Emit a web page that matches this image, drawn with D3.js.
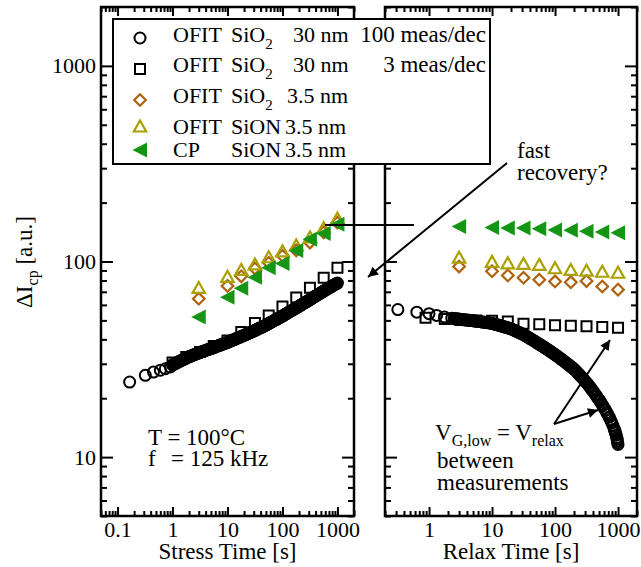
<!DOCTYPE html>
<html>
<head>
<meta charset="utf-8">
<script src="https://cdn.jsdelivr.net/npm/d3@7"></script>
<style>
  body { margin: 0; background: #fff; }
  svg { display: block; }
  text { font-family: "Liberation Serif", "Times New Roman", serif; fill: #000; }
</style>
</head>
<body>
<svg id="chart" width="641" height="567"></svg>
<script>
// ---------- data ----------
// Fast OFIT sampling times (100 meas/dec device; band drawn from 1 s to 1000 s)
const denseGridT = [
  1, 1.047, 1.096, 1.148, 1.202, 1.259, 1.318, 1.380, 1.445, 1.514, 1.585, 1.660, 1.738, 1.820, 1.905,
  1.995, 2.089, 2.188, 2.291, 2.399, 2.512, 2.630, 2.754, 2.884, 3.020, 3.162, 3.311, 3.467, 3.631, 3.802,
  3.981, 4.169, 4.365, 4.571, 4.786, 5.012, 5.248, 5.495, 5.754, 6.026, 6.310, 6.607, 6.918, 7.244, 7.586,
  7.943, 8.318, 8.710, 9.120, 9.550,
  10, 10.47, 10.96, 11.48, 12.02, 12.59, 13.18, 13.80, 14.45, 15.14, 15.85, 16.60, 17.38, 18.20, 19.05,
  19.95, 20.89, 21.88, 22.91, 23.99, 25.12, 26.30, 27.54, 28.84, 30.20, 31.62, 33.11, 34.67, 36.31, 38.02,
  39.81, 41.69, 43.65, 45.71, 47.86, 50.12, 52.48, 54.95, 57.54, 60.26, 63.10, 66.07, 69.18, 72.44, 75.86,
  79.43, 83.18, 87.10, 91.20, 95.50,
  100, 104.7, 109.6, 114.8, 120.2, 125.9, 131.8, 138.0, 144.5, 151.4, 158.5, 166.0, 173.8, 182.0, 190.5,
  199.5, 208.9, 218.8, 229.1, 239.9, 251.2, 263.0, 275.4, 288.4, 302.0, 316.2, 331.1, 346.7, 363.1, 380.2,
  398.1, 416.9, 436.5, 457.1, 478.6, 501.2, 524.8, 549.5, 575.4, 602.6, 631.0, 660.7, 691.8, 724.4, 758.6,
  794.3, 831.8, 871.0, 912.0, 955.0, 1000];

// Stress phase: OFIT SiO2 30 nm, 100 meas/dec (circles)
const stressEarlyT = [0.166, 0.32, 0.45, 0.6, 0.74, 0.91];
const stressEarlyV = [24.2, 26.2, 27.2, 27.8, 28.3, 28.9];
const stressDenseV = [
  29.6, 29.8, 30.0, 30.2, 30.4, 30.6, 30.8, 31.0, 31.2, 31.4, 31.6, 31.8, 32.0, 32.2, 32.4,
  32.6, 32.8, 32.9, 33.1, 33.3, 33.5, 33.6, 33.8, 34.0, 34.1, 34.3, 34.5, 34.6, 34.8, 34.9,
  35.1, 35.3, 35.4, 35.6, 35.7, 35.9, 36.1, 36.3, 36.4, 36.6, 36.8, 37.0, 37.2, 37.3, 37.5,
  37.7, 37.9, 38.1, 38.2, 38.4,
  38.6, 38.8, 39.0, 39.3, 39.5, 39.7, 39.9, 40.1, 40.4, 40.6, 40.8, 41.0, 41.2, 41.5, 41.7,
  41.9, 42.2, 42.4, 42.7, 42.9, 43.2, 43.4, 43.7, 43.9, 44.2, 44.4, 44.7, 45.0, 45.3, 45.6,
  45.9, 46.1, 46.4, 46.7, 47.0, 47.3, 47.7, 48.0, 48.4, 48.7, 49.1, 49.4, 49.8, 50.1, 50.5,
  50.8, 51.2, 51.5, 51.9, 52.2,
  52.6, 53.0, 53.5, 53.9, 54.3, 54.7, 55.2, 55.6, 56.0, 56.4, 56.9, 57.3, 57.7, 58.2, 58.6,
  59.0, 59.5, 60.0, 60.5, 61.0, 61.5, 61.9, 62.4, 62.9, 63.4, 63.9, 64.4, 65.0, 65.5, 66.0,
  66.6, 67.1, 67.6, 68.1, 68.7, 69.2, 69.8, 70.3, 70.9, 71.4, 72.0, 72.6, 73.1, 73.7, 74.2,
  74.8, 75.4, 75.9, 76.5, 77.0, 77.6];

// Stress phase: OFIT SiO2 30 nm, 3 meas/dec (squares)
const stressSlowT = [1, 1.78, 3.16, 5.62, 10, 17.8, 31.6, 56.2, 100, 178, 316, 562, 1000];
const stressSlowV = [30.5, 32.5, 34.5, 37, 39.5, 43.6, 48.5, 53, 58.9, 65.4, 73.5, 82.6, 93];

// Stress phase: 3.5 nm devices
const stressThinT = [3, 10, 17.8, 31.6, 56.2, 100, 178, 316, 562, 1000];
const stressSiO2V = [64.5, 75, 84, 92, 98.5, 107, 114, 125, 141, 158];
const stressSiONV = [72.8, 83, 90, 96, 104.5, 112, 120, 132, 147, 165];
const stressCpV   = [52.1, 65.6, 72.9, 83, 93, 97.6, 113.7, 130, 139, 155];

// Relaxation phase: OFIT SiO2 30 nm, 100 meas/dec (circles)
const relaxEarlyT = [0.32, 0.64, 1.0, 1.32, 1.75, 2.3];
const relaxEarlyV = [56.8, 55.1, 54.1, 53.0, 52.1, 51.3];
const relaxDenseStart = 2.5; // dense sampling from here on (grid above)
const relaxDenseV = [
  51.0, 50.9, 50.9, 50.8, 50.7, 50.6, 50.5, 50.4, 50.4, 50.3, 50.2, 50.1, 50.1, 50.0, 49.9,
  49.8, 49.7, 49.6, 49.5, 49.4, 49.3, 49.2, 49.1, 49.0, 48.9, 48.8, 48.7, 48.6, 48.5, 48.4,
  48.3, 48.1, 47.9, 47.7, 47.5, 47.3, 47.1, 46.9, 46.7, 46.5, 46.3, 46.1, 45.9, 45.7, 45.5,
  45.3, 45.0, 44.7, 44.4, 44.1, 43.8, 43.5, 43.2, 42.9, 42.6, 42.3, 41.9, 41.6, 41.2, 40.9,
  40.5, 40.1, 39.8, 39.4, 39.1, 38.7, 38.3, 38.0, 37.6, 37.3, 36.9, 36.6, 36.2, 35.9, 35.5,
  35.2, 34.8, 34.5, 34.1, 33.8,
  33.4, 33.1, 32.7, 32.4, 32.0, 31.7, 31.3, 31.0, 30.6, 30.3, 29.9, 29.6, 29.2, 28.9, 28.5,
  28.2, 27.8, 27.4, 26.9, 26.5, 26.1, 25.7, 25.3, 24.8, 24.4, 24.0, 23.6, 23.1, 22.7, 22.2,
  21.8, 21.4, 20.9, 20.5, 20.0, 19.6, 19.2, 18.7, 18.3, 17.8, 17.4, 16.9, 16.5, 16.0, 15.5,
  15.0, 14.5, 13.9, 13.3, 12.6, 11.6];
// extra points on the steep tail
const relaxTailT = [892, 933, 966, 977, 989];
const relaxTailV = [13.6, 12.95, 12.35, 12.1, 11.85];

// Relaxation phase: OFIT SiO2 30 nm, 3 meas/dec (squares)
const relaxSlowT = [0.88, 1.78, 3.16, 5.62, 10, 17.8, 31.6, 56.2, 100, 178, 316, 562, 1000];
const relaxSlowV = [51.5, 50.8, 50.3, 50.0, 49.8, 49.4, 48.1, 47.8, 47.2, 46.9, 46.6, 46.3, 45.9];

// Relaxation phase: 3.5 nm devices
const relaxThinT = [3, 10, 17.8, 31.6, 56.2, 100, 178, 316, 562, 1000];
const relaxSiO2V = [94.2, 89.2, 84.9, 82.6, 80.7, 79.1, 78.4, 79.4, 74.5, 71.8];
const relaxSiONV = [104, 99, 97.3, 96.6, 95.5, 91.8, 90, 89.2, 88.1, 87.1];
const relaxCpV   = [151, 149, 148.5, 148.5, 147, 145, 144.3, 142.8, 141.7, 140.4];

// Axis ranges and tick labels
const yDomain = [5, 2000];
const stressDomain = [0.05, 2000];
const relaxDomain = [0.2, 2000];
const yLabels = [10, 100, 1000];
const stressLabels = [0.1, 1, 10, 100, 1000];
const relaxLabels = [1, 10, 100, 1000];

// ---------- layout ----------
const svg = d3.select("#chart");
const plotTop = 7, plotBottom = 516;
const leftPanel = { x0: 101, x1: 354 };
const rightPanel = { x0: 385, x1: 637 };

const y = d3.scaleLog().domain(yDomain).range([plotBottom, plotTop]);
const xStress = d3.scaleLog().domain(stressDomain).range([leftPanel.x0, leftPanel.x1]);
const xRelax = d3.scaleLog().domain(relaxDomain).range([rightPanel.x0, rightPanel.x1]);

const COL = {
  black: "#000",
  brown: "#b0620e",
  olive: "#aaa000",
  green: "#149614"
};

const shapes = {
  circle: "M5.5,0A5.5,5.5 0 1,1 -5.5,0A5.5,5.5 0 1,1 5.5,0Z",
  square: "M-5,-5H5V5H-5Z",
  diamond: "M0,-5.8L5.8,0L0,5.8L-5.8,0Z",
  triUp: "M0,-6.5L6.2,4.5L-6.2,4.5Z",
  triLeft: "M-7.5,0L7,-7.5L7,7.5Z"
};
const styles = {
  circle: { stroke: COL.black, fill: "none", sw: 2 },
  square: { stroke: COL.black, fill: "none", sw: 2 },
  diamond: { stroke: COL.brown, fill: "none", sw: 2.2 },
  triUp: { stroke: COL.olive, fill: "none", sw: 2.2 },
  triLeft: { stroke: "none", fill: COL.green, sw: 0 }
};

function isMajor(v) {
  const l = Math.log10(v);
  return Math.abs(l - Math.round(l)) < 1e-6;
}
const fmt = d3.format("~g");

function styleAxis(g) {
  g.select(".domain").remove();
  g.selectAll(".tick line").attr("stroke", "#000").attr("stroke-width", 2);
  g.selectAll(".tick text").attr("font-size", 22).attr("fill", "#000");
}

function drawPanel(x, panel, xLabels, showY) {
  const g = svg.append("g");
  const xTicks = x.ticks().filter(d => d >= x.domain()[0] && d <= x.domain()[1]);
  const yTicks = y.ticks().filter(d => d >= yDomain[0] && d <= yDomain[1]);
  const isLab = (list) => (d) => list.some(v => Math.abs(v - d) / v < 1e-6);

  // bottom axis (ticks point inward)
  const gb = g.append("g").attr("transform", `translate(0,${plotBottom})`)
    .call(d3.axisBottom(x).tickValues(xTicks).tickSize(-9).tickPadding(5)
      .tickFormat(d => isLab(xLabels)(d) ? fmt(d) : ""));
  styleAxis(gb);
  gb.selectAll(".tick line").attr("y2", d => isMajor(d) ? -9 : -5);

  // top axis
  const gt = g.append("g").attr("transform", `translate(0,${plotTop})`)
    .call(d3.axisTop(x).tickValues(xTicks).tickSize(-9).tickFormat(""));
  styleAxis(gt);
  gt.selectAll(".tick line").attr("y2", d => isMajor(d) ? 9 : 5);

  // left axis
  const gl = g.append("g").attr("transform", `translate(${panel.x0},0)`)
    .call(d3.axisLeft(y).tickValues(yTicks).tickSize(-12).tickPadding(5)
      .tickFormat(d => showY && isLab(yLabels)(d) ? fmt(d) : ""));
  styleAxis(gl);
  gl.selectAll(".tick line").attr("x2", d => isMajor(d) ? 12 : 6);

  // right axis
  const gr = g.append("g").attr("transform", `translate(${panel.x1},0)`)
    .call(d3.axisRight(y).tickValues(yTicks).tickSize(-12).tickFormat(""));
  styleAxis(gr);
  gr.selectAll(".tick line").attr("x2", d => isMajor(d) ? -12 : -6);

  g.append("rect")
    .attr("x", panel.x0).attr("y", plotTop)
    .attr("width", panel.x1 - panel.x0).attr("height", plotBottom - plotTop)
    .attr("fill", "none").attr("stroke", "#000").attr("stroke-width", 2.5);
  return g;
}

function drawSeries(g, x, ts, vs, shape) {
  const st = styles[shape];
  g.append("g").selectAll("path")
    .data(ts.map((t, i) => [t, vs[i]]))
    .join("path")
    .attr("d", shapes[shape])
    .attr("transform", d => `translate(${x(d[0])},${y(d[1])})`)
    .attr("fill", st.fill)
    .attr("stroke", st.stroke)
    .attr("stroke-width", st.sw);
}

// ---------- panels ----------
const gL = drawPanel(xStress, leftPanel, stressLabels, true);
const gR = drawPanel(xRelax, rightPanel, relaxLabels, false);

const relaxDenseT = denseGridT.filter(t => t >= relaxDenseStart);

drawSeries(gL, xStress, stressSlowT, stressSlowV, "square");
drawSeries(gL, xStress, stressEarlyT, stressEarlyV, "circle");
drawSeries(gL, xStress, denseGridT, stressDenseV, "circle");
drawSeries(gL, xStress, stressThinT, stressSiO2V, "diamond");
drawSeries(gL, xStress, stressThinT, stressSiONV, "triUp");
drawSeries(gL, xStress, stressThinT, stressCpV, "triLeft");

drawSeries(gR, xRelax, relaxSlowT, relaxSlowV, "square");
drawSeries(gR, xRelax, relaxEarlyT, relaxEarlyV, "circle");
drawSeries(gR, xRelax, relaxDenseT, relaxDenseV, "circle");
drawSeries(gR, xRelax, relaxTailT, relaxTailV, "circle");
drawSeries(gR, xRelax, relaxThinT, relaxSiO2V, "diamond");
drawSeries(gR, xRelax, relaxThinT, relaxSiONV, "triUp");
drawSeries(gR, xRelax, relaxThinT, relaxCpV, "triLeft");

// ---------- axis titles ----------
svg.append("text")
  .attr("x", (leftPanel.x0 + leftPanel.x1) / 2).attr("y", 559)
  .attr("text-anchor", "middle").attr("font-size", 23)
  .text("Stress Time [s]");
svg.append("text")
  .attr("x", (rightPanel.x0 + rightPanel.x1) / 2).attr("y", 559)
  .attr("text-anchor", "middle").attr("font-size", 23)
  .text("Relax Time [s]");

const yTitle = svg.append("text")
  .attr("transform", "translate(32,262) rotate(-90)")
  .attr("text-anchor", "middle").attr("font-size", 23);
yTitle.append("tspan").text("\u0394I");
yTitle.append("tspan").attr("dy", 6).attr("font-size", 16).text("cp");
yTitle.append("tspan").attr("dy", -6).text(" [a.u.]");

// ---------- annotations ----------
const defs = svg.append("defs");
defs.append("marker")
  .attr("id", "arrowHead").attr("viewBox", "0 0 10 10")
  .attr("refX", 10).attr("refY", 5)
  .attr("markerWidth", 7.5).attr("markerHeight", 5)
  .attr("orient", "auto")
  .append("path").attr("d", "M0,0L10,5L0,10Z").attr("fill", "#000");

const notes = svg.append("g");
notes.append("text").attr("x", 148).attr("y", 445).attr("font-size", 23).text("T = 100\u00B0C");
const t2 = notes.append("text").attr("x", 148).attr("y", 466).attr("font-size", 23);
t2.append("tspan").text("f");
t2.append("tspan").attr("x", 171).text("= 125 kHz");

notes.append("text").attr("x", 517).attr("y", 158).attr("font-size", 23).text("fast");
notes.append("text").attr("x", 517).attr("y", 180).attr("font-size", 23).text("recovery?");

const vt = notes.append("text").attr("x", 435).attr("y", 440).attr("font-size", 23);
vt.append("tspan").text("V");
vt.append("tspan").attr("dy", 6).attr("font-size", 16).text("G,low");
vt.append("tspan").attr("dy", -6).text(" = V");
vt.append("tspan").attr("dy", 6).attr("font-size", 16).text("relax");
notes.append("text").attr("x", 437).attr("y", 468).attr("font-size", 23).text("between");
notes.append("text").attr("x", 437).attr("y", 490).attr("font-size", 23).text("measurements");

// connector line across the panel gap
notes.append("line")
  .attr("x1", 325).attr("y1", 225).attr("x2", 414).attr("y2", 225)
  .attr("stroke", "#000").attr("stroke-width", 2);
// arrows
const arrows = [
  [507, 163, 368, 277],
  [554, 424, 610, 340],
  [554, 424, 598, 410]
];
notes.selectAll("line.arrow").data(arrows).join("line")
  .attr("class", "arrow")
  .attr("x1", d => d[0]).attr("y1", d => d[1])
  .attr("x2", d => d[2]).attr("y2", d => d[3])
  .attr("stroke", "#000").attr("stroke-width", 2)
  .attr("marker-end", "url(#arrowHead)");

// ---------- legend ----------
const legendRows = [
  { shape: "circle", y: 38, base: 42, main: "OFIT", mat: "SiO", sub: "2", thick: "30 nm", thickX: 293, rate: "100 meas/dec" },
  { shape: "square", y: 69, base: 72, main: "OFIT", mat: "SiO", sub: "2", thick: "30 nm", thickX: 293, rate: "3 meas/dec" },
  { shape: "diamond", y: 100, base: 103, main: "OFIT", mat: "SiO", sub: "2", thick: "3.5 nm", thickX: 287, rate: "" },
  { shape: "triUp", y: 127, base: 134, main: "OFIT", mat: "SiON", sub: "", thick: "3.5 nm", thickX: 285, rate: "" },
  { shape: "triLeft", y: 150, base: 157, main: "CP", mat: "SiON", sub: "", thick: "3.5 nm", thickX: 285, rate: "" }
];
const lg = svg.append("g");
lg.append("rect").attr("x", 113).attr("y", 19).attr("width", 377).attr("height", 145)
  .attr("fill", "#fff").attr("stroke", "#000").attr("stroke-width", 2);
legendRows.forEach(r => {
  const st = styles[r.shape];
  lg.append("path").attr("d", shapes[r.shape])
    .attr("transform", `translate(140,${r.y})`)
    .attr("fill", st.fill).attr("stroke", st.stroke).attr("stroke-width", st.sw);
  const tx = lg.append("text").attr("x", 173).attr("y", r.base).attr("font-size", 22);
  tx.append("tspan").text(r.main);
  tx.append("tspan").attr("x", 231).text(r.mat);
  if (r.sub) {
    tx.append("tspan").attr("dy", 7).attr("font-size", 15).text(r.sub);
    tx.append("tspan").attr("dy", -7).attr("x", r.thickX).text(r.thick);
  } else {
    tx.append("tspan").attr("x", r.thickX).text(r.thick);
  }
  if (r.rate) {
    lg.append("text").attr("x", 486).attr("y", r.base).attr("font-size", 23)
      .attr("text-anchor", "end").text(r.rate);
  }
});
</script>
</body>
</html>
